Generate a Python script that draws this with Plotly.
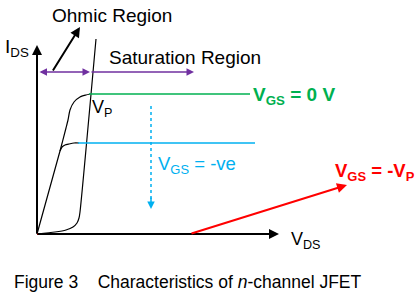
import plotly.graph_objects as go

# ---- data (diagram coordinates, pixel space 420x296, y downwards) ----
ohmic_x = [37, 60, 66, 68, 70, 74, 80, 86, 90]
ohmic_y = [234, 151, 128, 120, 110, 102, 97, 95, 94]
neg_x = [60, 62, 65, 69, 74, 79]
neg_y = [151, 147, 145, 144, 143, 143]
pinch_x = [96, 80, 79, 77, 73, 66, 55, 37]
pinch_y = [39, 212, 218, 223, 227, 230, 232, 234]
vgs0_x = [89, 250]
vgs0_y = [94, 94]
vgsneg_x = [78, 255]
vgsneg_y = [143, 143]
vgsvp_x = [37, 190]
vgsvp_y = [234, 234]
dot_x = [151, 151]
dot_y = [106, 200]

BLACK = "#000000"
GREEN = "#00b050"
CYAN = "#00b0f0"
RED = "#ff0000"
PURPLE = "#7030a0"
FONT = "Liberation Sans, Arial, sans-serif"

fig = go.Figure()

def line(x, y, color, width, dash="solid"):
    fig.add_trace(go.Scatter(x=x, y=y, mode="lines", line=dict(color=color, width=width, dash=dash,
                                                               shape="spline", smoothing=0.6),
                             hoverinfo="skip", showlegend=False))

line(ohmic_x, ohmic_y, BLACK, 1.2)
line(neg_x, neg_y, BLACK, 1.2)
line(pinch_x, pinch_y, BLACK, 1.2)
line(vgs0_x, vgs0_y, GREEN, 1.5)
line(vgsneg_x, vgsneg_y, CYAN, 1.5)
line(dot_x, dot_y, CYAN, 1.5, dash="dot")

ann = []

def arrow(x0, y0, x1, y1, color, width, head=2, size=1.0, side="end"):
    ann.append(dict(x=x1, y=y1, ax=x0, ay=y0, xref="x", yref="y", axref="x", ayref="y",
                    text="", showarrow=True, arrowhead=head, arrowsize=size, arrowwidth=width,
                    arrowcolor=color, arrowside=side, startarrowhead=head, startarrowsize=size))

# axes
arrow(37, 235, 37, 45, BLACK, 2)
arrow(36, 234, 279, 234, BLACK, 2)
# red segments
line(vgsvp_x, vgsvp_y, RED, 2)
arrow(190, 234, 347, 185, RED, 2)
# ohmic region pointer
arrow(52, 72, 80, 27, BLACK, 2)
# purple region arrows
arrow(38, 72, 90, 72, PURPLE, 1.5, head=2, size=1.0, side="end+start")
arrow(90, 72, 194, 72, PURPLE, 1.5)
# cyan dotted arrow head
arrow(151, 196, 151, 209, CYAN, 1.5)

def text(x, y, s, size, color=BLACK, xanchor="center"):
    ann.append(dict(x=x, y=y, xref="x", yref="y", text=s, showarrow=False, xanchor=xanchor,
                    yanchor="middle", font=dict(family=FONT, size=size, color=color)))

text(3, 48, "I<sub>DS</sub>", 19, xanchor="left")
text(50, 15, "Ohmic Region", 19, xanchor="left")
text(107, 57, "Saturation Region", 19, xanchor="left")
text(90, 108, "V<sub>P</sub>", 18, xanchor="left")
text(251, 96, "<b>V<sub>GS</sub> = 0 V</b>", 19, GREEN, xanchor="left")
text(156, 165, "V<sub>GS</sub> = -ve", 18.5, CYAN, xanchor="left")
text(333, 172, "<b>V<sub>GS</sub> = -V<sub>P</sub></b>", 18.5, RED, xanchor="left")
text(289, 240, "V<sub>DS</sub>", 18, xanchor="left")
text(12, 282, "Figure 3&nbsp;&nbsp;&nbsp;&nbsp;Characteristics of <i>n</i>-channel JFET", 17.5, xanchor="left")

fig.update_layout(
    width=420, height=296, margin=dict(l=0, r=0, t=0, b=0),
    paper_bgcolor="white", plot_bgcolor="white",
    xaxis=dict(range=[0, 420], visible=False, fixedrange=True),
    yaxis=dict(range=[296, 0], visible=False, fixedrange=True),
    annotations=ann, showlegend=False,
)
fig.write_html("out.html")
